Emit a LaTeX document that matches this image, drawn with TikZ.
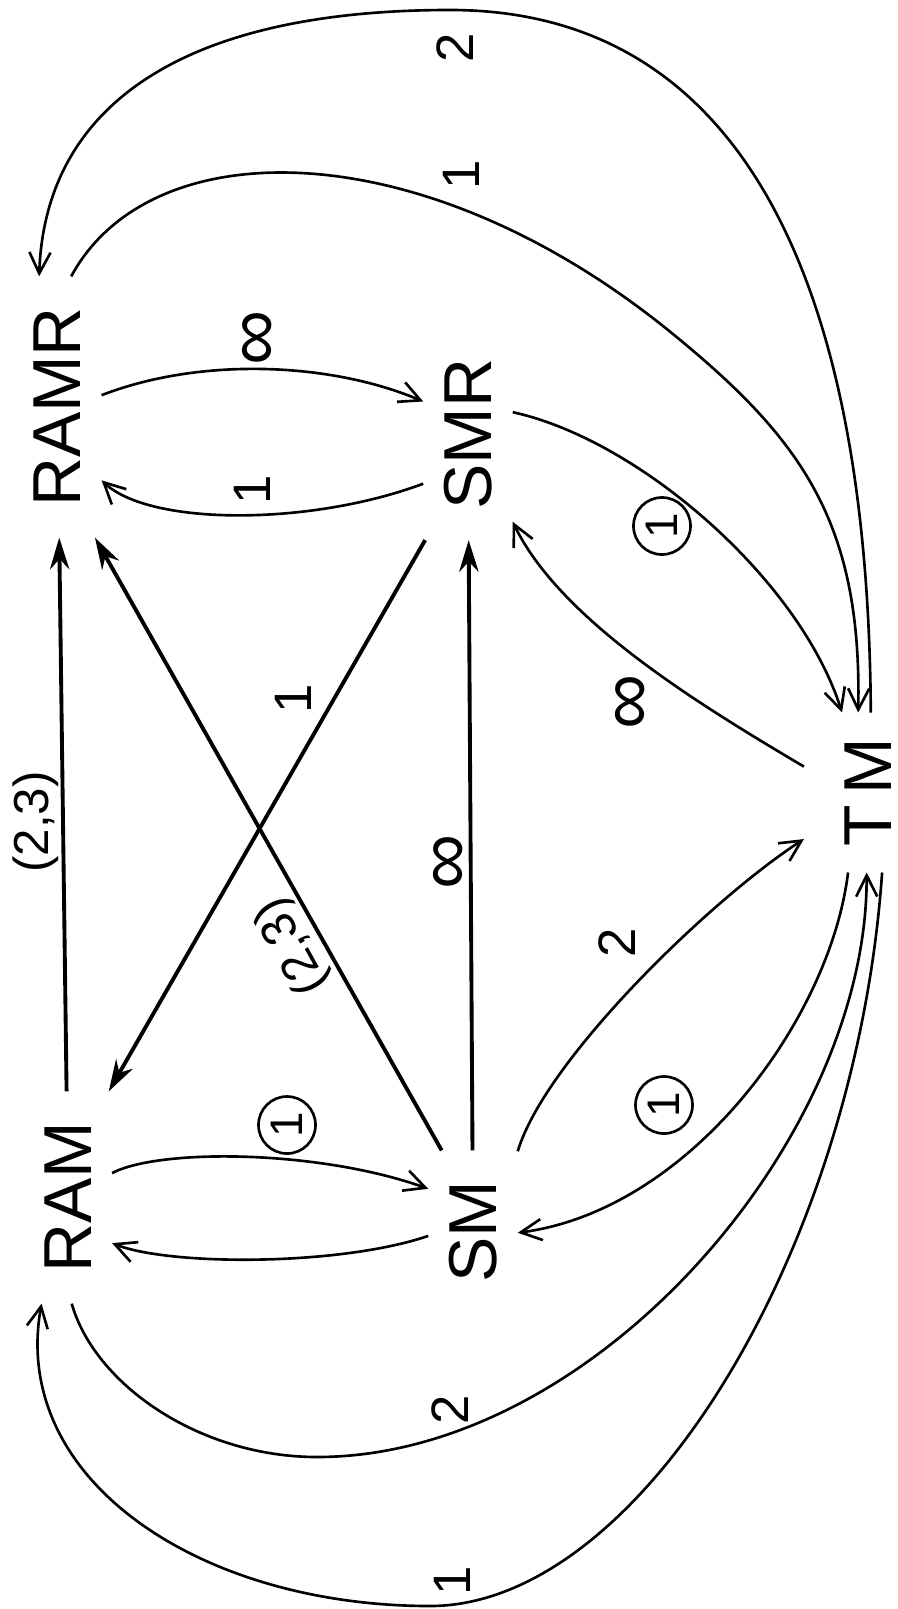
\documentclass[tikz,border=0pt]{standalone}
\usepackage{fontspec}
\setmainfont{Liberation Sans}
\usetikzlibrary{arrows.meta}

\begin{document}
\begin{tikzpicture}[x=0.01cm, y=-0.01cm,
    mem/.style={rotate=90, inner xsep=0.3cm, inner ysep=0.2cm, font=\fontsize{19.3}{23}\selectfont},
    lbl/.style={rotate=90, inner sep=0pt, font=\fontsize{15}{18}\selectfont},
    infl/.style={rotate=90, inner sep=0pt, font=\fontsize{22}{26}\selectfont},
    circnum/.style={rotate=90, circle, draw, line width=0.75pt, minimum size=0.57cm, inner sep=0pt, font=\fontsize{13}{15}\selectfont},
    curv/.style={line width=0.75pt, -{Straight Barb[length=6pt,width=6pt]}},
    direct/.style={line width=1.1pt, -{Stealth[length=9pt,width=5.5pt]}}]
        \useasboundingbox (0,0) rectangle (898,1609);
        % 存储器
        \node[mem] (RAMR) at (57.5,407) {RAMR};
        \node[mem] (SMR) at (468,434) {SMR};
        \node[mem] (RAM) at (68,1197.5) {RAM};
        \node[mem] (SM) at (473,1232) {SM};
        \node[mem, inner xsep=0.25cm, inner ysep=0.4cm] (TM) at (868,792.5) {T\kern3pt M};

        % RAMR 与 SMR
        \draw[curv] (RAMR.-75) .. controls (200,357) and (330,362) .. (SMR.54.2);
        \node[infl] (infRS) at (261,338) {∞};
        \draw[curv] (SMR.138.7) .. controls (310,526) and (150,526) .. (RAMR.-149.6);
        \node[lbl] (oneSR) at (252,490) {1};

        % RAM 与 SM
        \draw[curv] (RAM.-61.8) .. controls (160,1148) and (320,1150) .. (SM.46.7);
        \node[circnum] (cRS) at (287,1125) {1};
        \draw[curv] (SM.95.9) .. controls (340,1266) and (170,1266) .. (RAM.-136.5);

        % 直线
        \draw[direct] (RAM) -- (RAMR);
        \node[lbl, font=\fontsize{14}{17}\selectfont] (pairA) at (36,822) {(2,3)};
        \draw[direct] (SM.21.4) -- (RAMR.-164.2);
        \node[lbl, rotate=29, font=\fontsize{14}{17}\selectfont] (pairB) at (293,946) {(2,3)}; % 沿斜线
        \draw[direct] (SMR.158.5) -- (RAM.-21.1);
        \node[lbl] (oneSRA) at (293,699) {1};
        \draw[direct] (SM) -- (SMR);
        \node[infl] (infSS) at (452,862) {∞};

        % TM 附近
        \draw[curv] (SMR.-64.7) .. controls (640,440) and (800,580) .. (TM.18.5);
        \node[circnum] (cST) at (662,526) {1};
        \draw[curv] (TM.68.4) .. controls (700,705) and (560,620) .. (SMR.-153.9);
        \node[infl] (infTS) at (634,702) {∞};
        \draw[curv] (SM.-29.1) .. controls (545,1060) and (710,900) .. (TM.126.6);
        \node[lbl] (twoST) at (617,943) {2};
        \draw[curv] (TM.166.05) .. controls (830,1020) and (690,1210) .. (SM.-91.3);
        \node[circnum] (cTS) at (664,1105) {1};

        % 外圈
        \draw[curv] (RAMR.-6.4) .. controls (150,130) and (420,130) .. (668,330)
            .. controls (800,437) and (862,520) .. (TM.7.1);
        \node[lbl] (oneRT) at (461,175) {1};
        \draw[curv] (TM.-2.8) .. controls (868,257) and (728,10) .. (450,10)
            .. controls (182,10) and (45,106) .. (RAMR.8.1);
        \node[lbl] (twoTR) at (455,48) {2};
        \draw[curv] (RAM.-178.4) .. controls (95,1385) and (200,1457) .. (317,1457)
            .. controls (595,1457) and (868,1138) .. (TM.179.3);
        \node[lbl] (twoRT) at (450,1410) {2};
        \draw[curv] (TM.-170.1) .. controls (856,1250) and (640,1606) .. (430,1606)
            .. controls (200,1606) and (10,1480) .. (RAM.166.1);
        \node[lbl] (oneTR) at (452,1581) {1};
    \end{tikzpicture}
\end{document}
